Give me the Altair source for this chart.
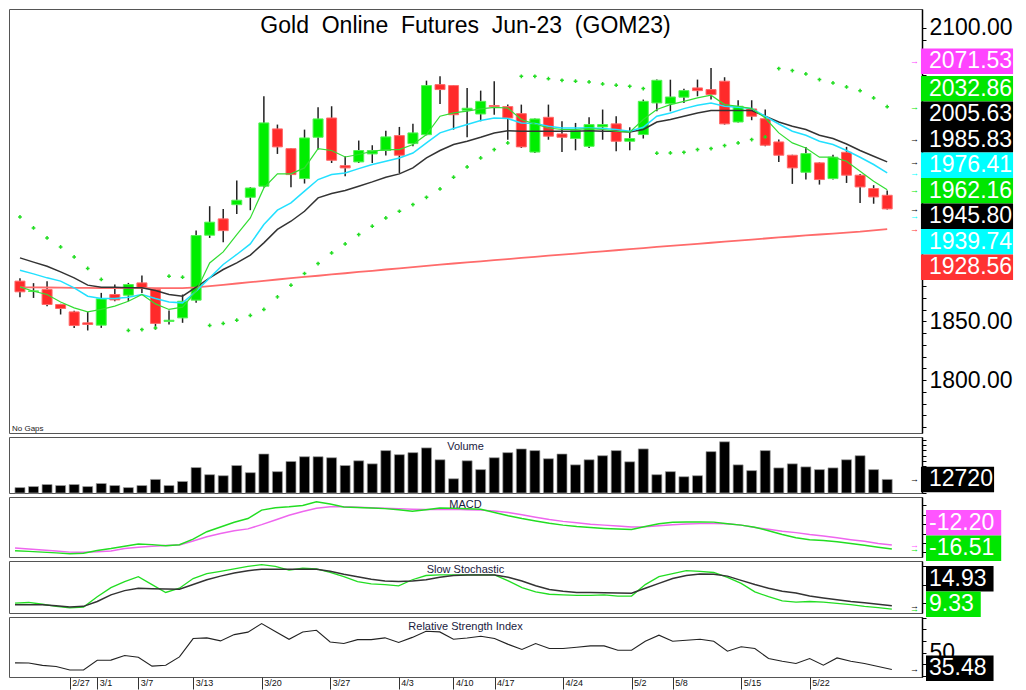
import altair as alt
import pandas as pd

# ---------------- data ----------------
opens = [1884.3, 1875.5, 1877.2, 1864.4, 1858.1, 1848.8, 1846.8, 1872.9, 1872.3, 1882.8,
         1877.2, 1850.0, 1853.0, 1868.1, 1923.4, 1937.3, 1949.4, 1955.7, 1965.1, 2013.9,
         1997.1, 1971.6, 2006.8, 2023.2, 1982.6, 1985.8, 1992.6, 1995.5, 2008.2, 2001.4,
         2009.0, 2051.6, 2050.8, 2029.8, 2026.6, 2033.8, 2032.9, 2026.9, 1994.2, 2023.8,
         2009.6, 2005.7, 1999.1, 2015.6, 2018.2, 2003.4, 2009.1, 2036.0, 2035.4, 2040.9,
         2048.8, 2047.4, 2054.5, 2019.8, 2030.9, 2022.6, 2002.8, 1991.5, 1977.0, 1985.0,
         1971.6, 1994.0, 1974.5, 1963.1, 1957.4]
highs = [1886.8, 1882.6, 1884.3, 1865.0, 1859.0, 1858.1, 1874.3, 1881.4, 1882.8, 1889.1,
         1877.8, 1859.3, 1872.9, 1927.4, 1948.1, 1945.8, 1970.0, 1964.3, 2041.7, 2017.6,
         1997.5, 2013.3, 2032.3, 2033.2, 1990.6, 2004.0, 2000.0, 2012.4, 2015.6, 2018.4,
         2055.0, 2058.7, 2051.2, 2048.8, 2046.5, 2054.5, 2034.6, 2034.6, 2022.8, 2034.6,
         2020.4, 2019.0, 2023.8, 2030.4, 2024.7, 2015.3, 2038.9, 2056.0, 2055.8, 2048.2,
         2055.9, 2065.8, 2057.9, 2038.3, 2038.3, 2030.4, 2004.8, 1991.9, 1998.6, 1985.4,
         1992.0, 1998.6, 1975.6, 1966.0, 1961.4]
lows = [1870.6, 1870.0, 1863.0, 1855.9, 1844.5, 1842.3, 1844.5, 1867.2, 1867.2, 1874.3,
        1843.1, 1847.4, 1848.8, 1865.8, 1921.1, 1917.4, 1941.5, 1944.7, 1964.0, 1992.6,
        1964.3, 1967.4, 1996.3, 1984.9, 1973.6, 1984.9, 1984.9, 1991.2, 1976.4, 1999.1,
        2008.5, 2035.1, 2013.3, 2006.8, 2020.4, 2026.0, 2004.7, 1997.7, 1993.4, 2004.7,
        1994.2, 1995.7, 1997.7, 2004.7, 1994.9, 1995.7, 2005.7, 2028.9, 2028.9, 2036.0,
        2041.7, 2038.9, 2017.6, 2019.3, 2021.3, 1999.1, 1985.8, 1967.1, 1970.8, 1966.5,
        1970.8, 1967.9, 1950.8, 1950.2, 1945.3]
closes = [1875.2, 1876.0, 1864.4, 1861.0, 1846.5, 1847.4, 1869.2, 1868.3, 1881.4, 1878.6,
          1848.3, 1851.0, 1867.2, 1923.1, 1934.5, 1927.3, 1953.2, 1963.6, 2019.0, 1998.6,
          1975.0, 2006.2, 2022.4, 1987.2, 1980.7, 1995.5, 1995.5, 2007.1, 1991.5, 2010.5,
          2050.8, 2047.4, 2026.0, 2031.5, 2037.4, 2032.9, 2023.2, 1998.6, 2022.4, 2007.7,
          2006.8, 2012.4, 2017.6, 2017.6, 2003.4, 2005.7, 2037.4, 2055.3, 2041.1, 2046.5,
          2046.5, 2043.1, 2018.2, 2033.2, 2024.7, 2000.0, 1991.5, 1980.7, 1992.9, 1970.8,
          1989.8, 1974.5, 1964.5, 1956.0, 1945.8]

ma_green = [1879.4, 1875.7, 1872.9, 1866.6, 1861.5, 1858.1, 1860.2, 1863.0, 1867.2, 1872.9,
            1864.9, 1860.2, 1862.1, 1875.7, 1899.8, 1909.2, 1924.0, 1938.1, 1963.7, 1975.6,
            1975.6, 1980.7, 1997.2, 1995.5, 1990.0, 1992.1, 1994.9, 1996.3, 1996.3, 2000.6,
            2009.1, 2024.7, 2027.5, 2029.0, 2031.0, 2032.3, 2031.7, 2021.9, 2018.1, 2014.7,
            2013.4, 2013.4, 2014.2, 2013.4, 2011.9, 2011.1, 2021.9, 2030.4, 2034.6, 2037.4,
            2040.3, 2042.6, 2034.6, 2033.2, 2031.2, 2023.2, 2010.5, 2002.0, 1997.7, 1989.8,
            1989.8, 1986.4, 1977.9, 1969.4, 1962.16]
ma_cyan = [1893.6, 1890.5, 1887.1, 1884.3, 1878.6, 1871.5, 1869.5, 1869.5, 1870.6, 1872.9,
           1869.5, 1866.6, 1865.8, 1875.7, 1887.1, 1898.5, 1907.0, 1916.0, 1932.5, 1944.7,
           1950.9, 1960.9, 1970.8, 1975.0, 1976.4, 1980.1, 1983.6, 1986.4, 1989.2, 1993.4,
           2002.0, 2010.5, 2014.3, 2017.6, 2021.0, 2023.2, 2022.7, 2019.0, 2018.5, 2016.2,
           2014.7, 2014.7, 2014.7, 2014.2, 2013.4, 2011.9, 2015.3, 2024.7, 2027.5, 2031.2,
           2034.0, 2036.0, 2033.2, 2032.3, 2031.2, 2024.7, 2018.1, 2011.9, 2008.5, 2003.4,
           2000.6, 1995.5, 1989.8, 1983.6, 1976.41]
ma_black = [1904.1, 1900.5, 1897.0, 1892.2, 1887.1, 1880.9, 1879.1, 1879.1, 1878.6, 1878.6,
            1876.3, 1872.9, 1871.5, 1879.1, 1887.1, 1894.2, 1899.8, 1906.4, 1916.9, 1928.3,
            1935.3, 1943.8, 1955.2, 1958.9, 1961.4, 1965.1, 1968.8, 1972.8, 1975.6, 1980.7,
            1989.2, 1995.5, 2000.6, 2003.4, 2006.8, 2010.5, 2012.4, 2011.9, 2011.9, 2011.9,
            2011.9, 2011.9, 2012.4, 2011.9, 2011.9, 2011.3, 2013.4, 2019.8, 2021.9, 2024.7,
            2027.5, 2029.5, 2029.5, 2029.5, 2029.5, 2024.7, 2019.8, 2016.2, 2013.4, 2008.5,
            2005.7, 2001.1, 1995.5, 1990.6, 1985.83]
ma_red = [1879.0, 1879.0, 1878.9, 1878.8, 1878.6, 1878.5, 1878.4, 1878.4, 1878.5, 1878.6,
          1878.4, 1878.3, 1878.3, 1879.0, 1880.1, 1881.2, 1882.3, 1883.4, 1884.6, 1885.7,
          1886.8, 1887.9, 1888.9, 1890.0, 1891.0, 1892.1, 1893.1, 1894.2, 1895.2, 1896.2,
          1897.3, 1898.3, 1899.3, 1900.3, 1901.2, 1902.2, 1903.1, 1904.1, 1905.0, 1906.0,
          1906.9, 1907.8, 1908.8, 1909.7, 1910.6, 1911.5, 1912.4, 1913.4, 1914.3, 1915.2,
          1916.1, 1917.0, 1917.9, 1918.8, 1919.7, 1920.6, 1921.5, 1922.3, 1923.2, 1924.0,
          1924.8, 1925.6, 1926.4, 1927.5, 1928.56]
sar = [1939.0, 1929.6, 1921.1, 1913.4, 1904.9, 1895.1, 1885.7, None, 1842.3, 1843.1,
       1844.5, 1888.5, 1887.7, None, 1846.6, 1848.3, 1851.1, 1855.1, 1860.2, 1870.9,
       1880.9, 1890.8, 1899.3, 1908.3, 1916.0, 1924.0, 1931.1, 1938.1, 1943.8, 1949.5,
       1955.7, 1962.8, 1972.8, 1981.5, 1989.2, 1996.3, 2002.0, 2058.7, 2058.7, 2056.7,
       2055.3, 2054.5, 2053.9, 2052.2, 2051.1, 2050.2, 2048.3, 1993.2, 1993.4, 1994.0,
       1996.3, 1997.2, 1999.7, 2002.0, 2004.8, 2007.1, 2065.3, 2063.6, 2060.7, 2055.9,
       2053.0, 2049.6, 2046.5, 2040.3, 2032.86]

volume = [5088, 6042, 7950, 6996, 7950, 6042, 8904, 6996, 5088, 6996,
          12720, 6996, 10812, 23850, 17172, 16218, 25758, 19080, 36570, 20034,
          29574, 34026, 34026, 33072, 25758, 30210, 27348, 39750, 35934, 37842,
          42294, 31164, 13356, 30210, 21942, 33072, 37842, 41340, 39750, 32118,
          36570, 26394, 31164, 34980, 39750, 29256, 41340, 17172, 20034, 15264,
          16218, 38796, 48018, 26394, 20988, 39750, 23532, 27348, 24486, 21942,
          23532, 31164, 34980, 21942, 12720]

macd = [-18.3, -19.0, -19.8, -20.6, -21.5, -21.0, -18.0, -16.0, -13.5, -11.1,
        -11.8, -12.9, -12.0, -6.0, 2.0, 7.0, 12.0, 16.0, 25.0, 27.5,
        28.5, 30.0, 33.8, 31.5, 28.4, 27.8, 27.2, 26.6, 25.5, 23.7,
        25.5, 27.3, 27.0, 26.5, 25.9, 22.5, 19.0, 16.0, 13.5, 11.0,
        9.0, 7.5, 6.5, 5.5, 4.8, 4.3, 7.5, 10.5, 12.0, 12.4,
        12.3, 12.2, 10.5, 9.0, 6.8, 3.0, -1.0, -4.5, -6.5, -7.5,
        -8.8, -10.5, -12.5, -14.5, -16.51]
macd_signal = [-15.4, -16.5, -17.6, -18.7, -19.8, -19.9, -19.5, -18.5, -16.0, -14.5,
               -13.5, -12.8, -12.2, -8.0, -3.5, 0.0, 3.0, 5.0, 9.5, 14.5,
               19.5, 23.5, 27.0, 28.5, 28.6, 28.0, 27.5, 27.0, 26.6, 26.0,
               25.6, 25.7, 25.8, 25.5, 25.0, 24.0, 22.5, 20.0, 17.5, 15.0,
               13.0, 11.5, 10.0, 9.0, 8.0, 7.0, 7.2, 8.3, 9.5, 10.3,
               10.6, 10.7, 10.5, 9.0, 6.5, 4.5, 2.5, 1.0, -1.0, -2.5,
               -4.5, -6.5, -8.3, -10.5, -12.20]

stoch_k = [19.3, 20.4, 17.5, 14.0, 11.5, 12.7, 30.0, 45.0, 55.0, 63.0,
           50.0, 37.0, 44.0, 60.0, 68.0, 72.0, 76.0, 80.0, 83.0, 80.0,
           74.0, 77.0, 76.0, 70.0, 63.0, 55.0, 51.0, 50.0, 48.0, 58.0,
           65.0, 66.0, 66.0, 66.0, 66.0, 66.0, 56.0, 45.0, 38.0, 34.0,
           33.0, 32.0, 32.0, 33.0, 31.0, 31.0, 50.0, 63.0, 68.0, 73.0,
           72.0, 70.0, 62.0, 52.0, 38.0, 30.0, 23.0, 21.0, 22.0, 21.0,
           19.0, 17.0, 14.0, 12.0, 9.33]
stoch_d = [16.5, 16.5, 16.5, 15.0, 13.0, 14.0, 22.0, 33.0, 40.0, 44.0,
           43.0, 42.5, 42.4, 50.0, 58.0, 64.0, 69.0, 73.0, 75.4, 75.4,
           75.4, 75.4, 75.4, 72.0, 67.0, 63.0, 59.0, 56.0, 55.0, 56.0,
           58.0, 62.0, 65.0, 66.0, 66.0, 66.0, 62.0, 56.0, 48.0, 42.0,
           39.0, 37.0, 37.0, 36.5, 36.0, 35.8, 44.0, 52.0, 60.0, 65.0,
           67.5, 67.0, 64.0, 57.0, 50.0, 44.0, 39.0, 36.0, 31.0, 28.0,
           25.0, 22.0, 20.0, 17.5, 14.93]

rsi = [41.1, 41.0, 39.0, 38.0, 35.0, 35.0, 43.4, 43.5, 47.5, 46.0,
       38.3, 39.1, 46.3, 62.0, 62.6, 60.0, 65.4, 67.5, 74.9, 68.0,
       61.4, 67.7, 69.1, 59.1, 57.7, 61.1, 61.1, 62.6, 58.6, 63.0,
       68.3, 67.7, 61.4, 62.5, 64.0, 62.0, 57.0, 52.6, 57.7, 53.4,
       53.4, 54.5, 55.7, 55.7, 52.0, 52.0, 59.7, 64.9, 59.7, 60.5,
       61.4, 59.7, 51.1, 54.9, 53.4, 44.9, 42.5, 40.6, 44.9, 39.1,
       45.4, 42.5, 40.6, 38.0, 35.48]

date_pos = [4, 6, 9, 13, 18, 23, 28, 32, 35, 40, 45, 48, 53, 58]
date_lbl = ['2/27', '3/1', '3/7', '3/13', '3/20', '3/27', '4/3', '4/10', '4/17',
            '4/24', '5/2', '5/8', '5/15', '5/22']

title = "Gold\u00a0\u00a0Online\u00a0\u00a0Futures\u00a0\u00a0Jun-23\u00a0\u00a0(GOM23)"

price_badge_vals = [2071.53, 2032.86, 2005.63, 1985.83, 1976.41, 1962.16, 1945.80, 1939.74, 1928.56]
price_badge_cols = ['#ff44ff', '#00e600', '#000000', '#000000', '#00ffff', '#00e600', '#000000', '#00ffff', '#ff3333']

# ---------------- layout constants ----------------
W = 913
XDOM = [-0.44, 66.2]
H_MAIN, H_VOL, H_MACD, H_STO, H_RSI = 424, 56, 60, 52, 60
D_MAIN = [1755, 2116]
D_VOL = [0, 52500]
D_MACD = [-25, 39]
D_STO = [3, 89]
D_RSI = [29, 80.5]
FONT = 'Liberation Sans'
NARROW = 'Liberation Sans Narrow, Liberation Sans'
BH = 25.5
PX_PER_X = W / (XDOM[1] - XDOM[0])

df = pd.DataFrame({
    'i': list(range(len(opens))), 'o': opens, 'h': highs, 'l': lows, 'c': closes,
    'g': ma_green, 'cy': ma_cyan, 'b': ma_black, 'r': ma_red, 'sar': sar,
    'vol': volume, 'macd': macd, 'sig': macd_signal, 'k': stoch_k, 'd': stoch_d, 'rsi': rsi,
})
df['dir'] = ['up' if c >= o else 'down' for o, c in zip(opens, closes)]

xs = alt.Scale(domain=XDOM, nice=False, zero=False)


def xpix_to_data(p):
    return XDOM[0] + p / PX_PER_X


def char_w(s, fs=23):
    w = 0
    for ch in s:
        w += {'.': 0.278, '-': 0.333}.get(ch, 0.556) * fs
    return w


def badges(vals, cols, fmt, dom, h, tol=4):
    k = h / (dom[1] - dom[0])
    px = [(dom[1] - v) * k for v in vals]
    order = sorted(range(len(vals)), key=lambda j: px[j])
    clusters = []
    for j in order:
        clusters.append([[j], px[j] - BH / 2])
        while len(clusters) > 1:
            a, b = clusters[-2], clusters[-1]
            if a[1] + len(a[0]) * BH > b[1]:
                m = a[0] + b[0]
                mean = sum(px[t] for t in m) / len(m)
                clusters[-2:] = [[m, mean - len(m) * BH / 2]]
            else:
                break
    centers = {}
    for m, top in clusters:
        top = min(top, h + tol - len(m) * BH)
        top = max(top, -tol)
        for r, t in enumerate(m):
            centers[t] = top + (r + 0.5) * BH
    rows = []
    for j, v in enumerate(vals):
        c = centers[j]
        txt = format(v, fmt)
        rows.append(dict(v=v, col=cols[j], txt=txt,
                         mid=dom[1] - c / k,
                         lo=dom[1] - (c + BH / 2) / k,
                         hi=dom[1] - (c - BH / 2) / k,
                         xl=xpix_to_data(W + 4),
                         xr=xpix_to_data(W + 4 + char_w(txt) + 10)))
    return pd.DataFrame(rows)


def uncovered(candidates, bdf, margin):
    out = []
    for v in candidates:
        if not any((r.lo - margin) <= v <= (r.hi + margin) for r in bdf.itertuples()):
            out.append(v)
    return out


def right_axis(values, label_expr=None, labels=True):
    kw = dict(orient='right', values=values, tickSize=4, tickColor='black',
              domainColor='black', domainWidth=1.5, labelFontSize=23, labelFont=FONT,
              labelColor='black', labelPadding=3, title=None, grid=False,
              labelOverlap=False, labelFlush=False, labelBound=False, labels=labels)
    if label_expr is not None:
        kw['labelExpr'] = label_expr
    return alt.Axis(**kw)


def badge_layers(bdf, ys, yax, xax=None):
    rect = alt.Chart(bdf).mark_rect().encode(
        x=alt.X('xl:Q', scale=xs, axis=xax), x2='xr:Q',
        y=alt.Y('lo:Q', scale=ys, axis=yax), y2='hi:Q',
        color=alt.Color('col:N', scale=None))
    txt = alt.Chart(bdf).mark_text(align='left', baseline='middle', fontSize=23,
                                   font=FONT, color='white').encode(
        x=alt.value(W + 7), y=alt.Y('mid:Q', scale=ys, axis=yax), text='txt:N')
    arrow = alt.Chart(bdf).mark_text(text='\u2192', align='right', baseline='middle',
                                     fontSize=9, font=FONT).encode(
        x=alt.value(W - 3), y=alt.Y('v:Q', scale=ys, axis=yax),
        color=alt.Color('col:N', scale=None))
    return [arrow, rect, txt]


def panel_label(text, y):
    return alt.Chart(pd.DataFrame({'t': [text]})).mark_text(
        fontSize=11, font=NARROW, color='#1a1a40', baseline='middle').encode(
        x=alt.value(W / 2), y=alt.value(y), text='t:N')


def line(field, ys, yax, color, width=1.2, xax=None):
    return alt.Chart(df).mark_line(color=color, strokeWidth=width).encode(
        x=alt.X('i:Q', scale=xs, axis=xax), y=alt.Y(f'{field}:Q', scale=ys, axis=yax))


X = alt.X('i:Q', scale=xs, axis=None)

# ---------------- main price panel ----------------
ys_main = alt.Scale(domain=D_MAIN, nice=False, zero=False)
main_b = badges(price_badge_vals, price_badge_cols, '.2f', D_MAIN, H_MAIN)
shown = uncovered(list(range(1800, 2101, 50)), main_b, 8)
pax = right_axis(list(range(1760, 2101, 10)),
                 "indexof([" + ",".join(str(v) for v in shown) + "], datum.value) >= 0 ? format(datum.value, '.2f') : ''")

wicks = alt.Chart(df).mark_rule(color='#222222', strokeWidth=1.5).encode(
    x=X, y=alt.Y('l:Q', scale=ys_main, axis=pax), y2='h:Q')
bodies = alt.Chart(df).mark_bar(size=10, strokeWidth=1).encode(
    x=X, y=alt.Y('o:Q', scale=ys_main, axis=pax), y2='c:Q',
    color=alt.Color('dir:N', scale=alt.Scale(domain=['up', 'down'], range=['#00ee00', '#ff2a2a']), legend=None),
    stroke=alt.Stroke('dir:N', scale=alt.Scale(domain=['up', 'down'], range=['#55f055', '#ff6a6a']), legend=None))
sar_pts = alt.Chart(df).mark_point(shape='cross', filled=True, size=14, color='#22dd22', opacity=1).encode(
    x=X, y=alt.Y('sar:Q', scale=ys_main, axis=pax))
title_t = alt.Chart(pd.DataFrame({'t': [title]})).mark_text(
    fontSize=23, font=FONT, color='black', baseline='middle').encode(
    x=alt.value(W / 2), y=alt.value(17), text='t:N')
nogaps = alt.Chart(pd.DataFrame({'t': ['No Gaps']})).mark_text(
    fontSize=8, font=FONT, color='#222', align='left', baseline='middle').encode(
    x=alt.value(3), y=alt.value(H_MAIN - 4), text='t:N')

main = alt.layer(
    wicks, bodies,
    line('r', ys_main, pax, '#ff6b6b', 1.8),
    line('b', ys_main, pax, '#333333', 1.5),
    line('cy', ys_main, pax, '#22e0ff', 1.5),
    line('g', ys_main, pax, '#33dd33', 1.2),
    sar_pts, title_t, nogaps,
    *badge_layers(main_b, ys_main, pax),
).properties(width=W, height=H_MAIN)

# ---------------- volume ----------------
ys_vol = alt.Scale(domain=D_VOL, nice=False, zero=True)
vax = right_axis(list(range(0, 52001, 5000)), labels=False)
vol_bars = alt.Chart(df).mark_bar(size=10, color='black', stroke='#a0a0a0', strokeWidth=0.7).encode(
    x=X, y=alt.Y('vol:Q', scale=ys_vol, axis=vax))
vol_b = badges([volume[-1]], ['#000000'], '.0f', D_VOL, H_VOL)
vol = alt.layer(vol_bars, panel_label('Volume', 10), *badge_layers(vol_b, ys_vol, vax)).properties(
    width=W, height=H_VOL)

# ---------------- MACD ----------------
ys_macd = alt.Scale(domain=D_MACD, nice=False, zero=False)
max_ = right_axis(list(range(-20, 40, 10)), labels=False)
macd_b = badges([macd_signal[-1], macd[-1]], ['#ff55ff', '#00e600'], '.2f', D_MACD, H_MACD)
macd_p = alt.layer(line('sig', ys_macd, max_, '#ee66ee', 1.5),
                   line('macd', ys_macd, max_, '#22dd22', 1.5),
                   panel_label('MACD', 8),
                   *badge_layers(macd_b, ys_macd, max_)).properties(width=W, height=H_MACD)

# ---------------- Slow stochastic ----------------
ys_sto = alt.Scale(domain=D_STO, nice=False, zero=False)
sax = right_axis([20, 50, 80], labels=False)
sto_b = badges([stoch_d[-1], stoch_k[-1]], ['#000000', '#00e600'], '.2f', D_STO, H_STO)
sto = alt.layer(line('k', ys_sto, sax, '#22dd22', 1.3),
                line('d', ys_sto, sax, '#333333', 1.5),
                panel_label('Slow  Stochastic', 9),
                *badge_layers(sto_b, ys_sto, sax)).properties(width=W, height=H_STO)

# ---------------- RSI ----------------
ys_rsi = alt.Scale(domain=D_RSI, nice=False, zero=False)
label_expr = ("[" + ",".join(f"'{s}'" for s in date_lbl) + "][indexof(["
              + ",".join(str(p) for p in date_pos) + "], datum.value)]")
dax = alt.Axis(orient='bottom', values=date_pos, labelExpr=label_expr, tickSize=12, tickColor='#333',
               tickWidth=1, labelAlign='left', labelBaseline='top', labelPadding=-11, labelOffset=2,
               labelFontSize=9, labelFont=NARROW, labelColor='#111', domain=False, grid=False,
               title=None, labelOverlap=False, labelFlush=False, labelBound=False)
rax = right_axis(list(range(30, 81, 10)), "datum.value === 50 ? '50' : ''")
rsi_b = badges([rsi[-1]], ['#000000'], '.2f', D_RSI, H_RSI)
rsi_p = alt.layer(line('rsi', ys_rsi, rax, '#222222', 1.1, xax=dax),
                  panel_label('Relative  Strength  Index', 10),
                  *badge_layers(rsi_b, ys_rsi, rax, xax=dax)).properties(width=W, height=H_RSI)

chart = alt.vconcat(main, vol, macd_p, sto, rsi_p, spacing=4, bounds='flush').properties(
    padding=0
).configure_view(stroke='#555555', strokeWidth=1).configure_axis(grid=False)

chart.save("out.html", embed_options={"renderer": "svg", "actions": False})
